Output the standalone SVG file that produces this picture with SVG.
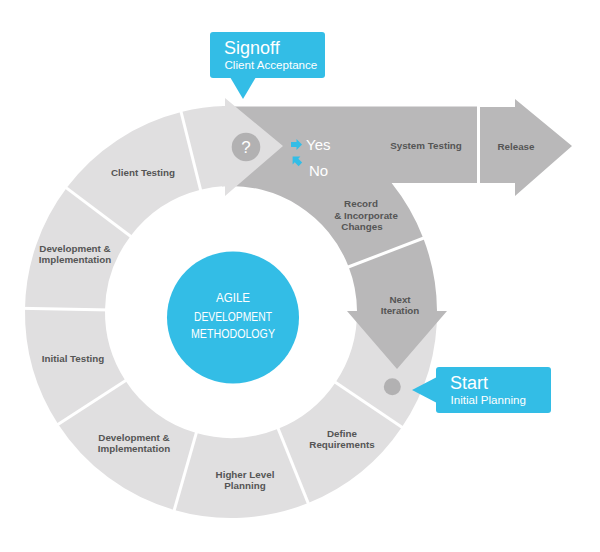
<svg xmlns="http://www.w3.org/2000/svg" width="600" height="552" viewBox="0 0 600 552">
<defs>
<style>
.light{fill:#e0dfe0}
.dark{fill:#b9b8b9}
.blue{fill:#33bde6}
.sep{stroke:#ffffff;stroke-width:3;fill:none}
.lbl{font-family:"Liberation Sans",Arial,sans-serif;font-weight:bold;font-size:9.8px;fill:#555555;text-anchor:middle}
.ctr{font-family:"Liberation Sans",Arial,sans-serif;font-size:12.5px;fill:#ffffff;text-anchor:middle}
.big{font-family:"Liberation Sans",Arial,sans-serif;font-size:18px;fill:#ffffff}
.small{font-family:"Liberation Sans",Arial,sans-serif;font-size:11.6px;fill:#ffffff}
.yn{font-family:"Liberation Sans",Arial,sans-serif;font-size:15px;fill:#ffffff}
.dot{fill:#b2b1b2}
</style>
<path id="mini" d="M-5.5,-2.5 H0 V-5.5 L5.5,0 L0,5.5 V2.5 H-5.5 Z"/>
</defs>
<rect width="600" height="552" fill="#ffffff"/>

<g id="start-segment">
<path class="light" d="M437,308.4 A206 206 0 0 1 401.8,427.2 L335.5,382.5 A126 126 0 0 0 357,309.8 Z"/>
</g>

<g id="record-changes">
<path class="dark" d="M222,106.5 L477,106.5 L477,183 L391.6,183 A206 206 0 0 1 423.3,238.2 L348.6,266.8 A126 126 0 0 0 222,186.3 Z"/>
<text class="lbl" x="361" y="207">Record</text>
<text class="lbl" x="366" y="219">&amp; Incorporate</text>
<text class="lbl" x="362" y="230">Changes</text>
</g>
<g id="system-testing">
<text class="lbl" x="426" y="149">System Testing</text>
</g>

<g id="next-iteration">
<path class="dark" d="M423.3,238.2 A206 206 0 0 1 437,311 L447,311 L397,369 L347,311 L357,311 A126 126 0 0 0 348.6,266.8 Z"/>
<text class="lbl" x="400" y="303">Next</text>
<text class="lbl" x="400" y="314">Iteration</text>
</g>

<g id="release">
<path class="dark" d="M480,107 L515,107 L515,99 L572,146 L515,196 L515,183 L480,183 Z"/>
<text class="lbl" x="516" y="150">Release</text>
</g>

<g id="define-requirements">
<path class="light" d="M401.8,427.2 A206 206 0 0 1 308.2,503 L278.2,428.8 A126 126 0 0 0 335.5,382.5 Z"/>
<text class="lbl" x="342" y="437">Define</text>
<text class="lbl" x="342" y="448">Requirements</text>
</g>

<g id="higher-level-planning">
<path class="light" d="M308.2,503 A206 206 0 0 1 174.2,510 L196.3,433.1 A126 126 0 0 0 278.2,428.8 Z"/>
<text class="lbl" x="245" y="477.5">Higher Level</text>
<text class="lbl" x="245" y="488.5">Planning</text>
</g>

<g id="dev-impl-lower">
<path class="light" d="M174.2,510 A206 206 0 0 1 58.2,424.2 L125.3,380.6 A126 126 0 0 0 196.3,433.1 Z"/>
<text class="lbl" x="134" y="441">Development &amp;</text>
<text class="lbl" x="134" y="452">Implementation</text>
</g>

<g id="initial-testing">
<path class="light" d="M58.2,424.2 A206 206 0 0 1 25,308.4 L105,309.8 A126 126 0 0 0 125.3,380.6 Z"/>
<text class="lbl" x="73" y="362">Initial Testing</text>
</g>

<g id="dev-impl-upper">
<path class="light" d="M25,308.4 A206 206 0 0 1 66.5,188 L130.4,236.2 A126 126 0 0 0 105,309.8 Z"/>
<text class="lbl" x="75" y="251.5">Development &amp;</text>
<text class="lbl" x="75" y="263">Implementation</text>
</g>

<g id="client-testing">
<path class="light" d="M66.5,188 A206 206 0 0 1 181.2,112.1 L200.5,189.7 A126 126 0 0 0 130.4,236.2 Z"/>
<text class="lbl" x="143" y="176">Client Testing</text>
</g>

<g id="signoff-decision">
<path class="light" d="M181.2,112.1 A206 206 0 0 1 225,106.1 L225,98 L283,146 L225,196 L225,186.1 A126 126 0 0 0 200.5,189.7 Z"/>
<circle class="dot" cx="246" cy="147" r="14.3"/>
<text x="246" y="153" font-family="Liberation Sans,Arial,sans-serif" font-size="17" fill="#ffffff" text-anchor="middle">?</text>
<use href="#mini" class="blue" transform="translate(296.5,144.5)"/>
<text class="yn" x="306" y="150">Yes</text>
<use href="#mini" class="blue" transform="translate(296.5,160.5) rotate(-135)"/>
<text class="yn" x="309" y="176">No</text>
</g>

<g id="connectors">
<line class="sep" x1="330.5" y1="379.1" x2="406.8" y2="430.5"/>
<line class="sep" x1="276" y1="423.3" x2="310.4" y2="508.6"/>
<line class="sep" x1="197.9" y1="427.4" x2="172.6" y2="515.8"/>
<line class="sep" x1="130.4" y1="377.4" x2="53.2" y2="427.5"/>
<line class="sep" x1="111" y1="309.9" x2="19" y2="308.3"/>
<line class="sep" x1="135.2" y1="239.8" x2="61.7" y2="184.4"/>
<line class="sep" x1="202" y1="195.6" x2="179.7" y2="106.3"/>
<line class="sep" x1="343" y1="269" x2="429" y2="236"/>
</g>

<g id="agile-center">
<circle class="blue" cx="233" cy="317.5" r="66"/>
<text class="ctr" x="233" y="302" textLength="34" lengthAdjust="spacingAndGlyphs">AGILE</text>
<text class="ctr" x="233" y="321" textLength="78" lengthAdjust="spacingAndGlyphs">DEVELOPMENT</text>
<text class="ctr" x="233" y="338" textLength="84" lengthAdjust="spacingAndGlyphs">METHODOLOGY</text>
</g>

<g id="start-marker">
<circle class="dot" cx="392.3" cy="386.7" r="8.5"/>
</g>

<g id="signoff-callout">
<rect class="blue" x="210" y="32" width="115" height="46" rx="3"/>
<path class="blue" d="M230,77 L256,77 L243,99 Z"/>
<text class="big" x="224" y="54">Signoff</text>
<text class="small" x="224.5" y="69">Client Acceptance</text>
</g>

<g id="start-callout">
<rect class="blue" x="436" y="367" width="115" height="46" rx="3"/>
<path class="blue" d="M437,377 L437,403 L412,390 Z"/>
<text class="big" x="450" y="389">Start</text>
<text class="small" x="450.5" y="404">Initial Planning</text>
</g>
</svg>
